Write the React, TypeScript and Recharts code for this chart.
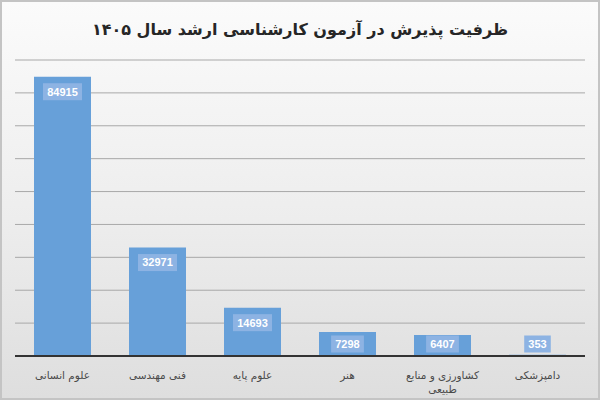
import React from "react";
import {
  BarChart,
  Bar,
  XAxis,
  YAxis,
  CartesianGrid,
  LabelList,
} from "recharts";

const categories = [
  "علوم انسانی",
  "فنی مهندسی",
  "علوم پایه",
  "هنر",
  "کشاورزی و منابع طبیعی",
  "دامپزشکی",
];
const capacity = [84915, 32971, 14693, 7298, 6407, 353];
const yTicks = [0, 10000, 20000, 30000, 40000, 50000, 60000, 70000, 80000, 90000];

const title = "ظرفیت پذیرش در آزمون کارشناسی ارشد سال ۱۴۰۵";

const data = categories.map((name, i) => ({ name, value: capacity[i] }));

// long labels: last word goes on a second line, like the original
const splitLabel = (label: string) => {
  const words = label.split(" ");
  if (words.length <= 3) return [label];
  return [words.slice(0, -1).join(" "), words[words.length - 1]];
};

const CategoryTick = (props: any) => {
  const { x, y, payload } = props;
  const lines = splitLabel(payload.value);
  return (
    <text
      x={x}
      y={y + 6}
      textAnchor="middle"
      fontSize={10.5}
      fill="#4a4a4a"
      fontFamily="DejaVu Sans"
    >
      {lines.map((line, i) => (
        <tspan key={i} x={x} dy={i === 0 ? "0.9em" : 14}>
          {line}
        </tspan>
      ))}
    </text>
  );
};

const ValueBox = (props: any) => {
  const { x, y, width, height, value } = props;
  const cx = x + width / 2;
  const bottom = y + height;
  const cy = Math.min(y + 15, bottom - 12);
  const label = String(value);
  const boxW = label.length * 6.2 + 8;
  return (
    <g>
      <rect
        x={cx - boxW / 2}
        y={cy - 8.5}
        width={boxW}
        height={17}
        fill="#8db3e3"
      />
      <text
        x={cx}
        y={cy}
        dy="0.35em"
        textAnchor="middle"
        fontSize={11}
        fontWeight="bold"
        fontFamily="Liberation Sans"
        fill="#ffffff"
      >
        {label}
      </text>
    </g>
  );
};

export default function App() {
  return (
    <div
      style={{
        position: "absolute",
        left: 0,
        top: 0,
        width: 600,
        height: 400,
        boxSizing: "border-box",
        border: "2px solid #c4c4c4",
        background: "linear-gradient(to bottom, #fbfbfb 0%, #ededed 55%, #dedede 100%)",
        overflow: "hidden",
      }}
    >
      <div
        style={{
          position: "absolute",
          left: 0,
          top: 18,
          width: 596,
          textAlign: "center",
          direction: "rtl",
          fontFamily: "DejaVu Sans",
          fontWeight: "bold",
          fontSize: 16,
          color: "#262626",
        }}
      >
        {title}
      </div>
      <div style={{ position: "absolute", left: -2, top: -2 }}>
        <BarChart
          width={600}
          height={400}
          data={data}
          margin={{ top: 60, right: 15, bottom: 0, left: 15 }}
          barCategoryGap="20%"
        >
          <CartesianGrid vertical={false} stroke="#a8a8a8" />
          <YAxis hide domain={[0, 90000]} ticks={yTicks} />
          <XAxis
            dataKey="name"
            height={44}
            axisLine={{ stroke: "#333333", strokeWidth: 2 }}
            tickLine={false}
            interval={0}
            tick={<CategoryTick />}
          />
          <Bar dataKey="value" fill="#67a0d9" isAnimationActive={false}>
            <LabelList dataKey="value" content={<ValueBox />} />
          </Bar>
        </BarChart>
      </div>
    </div>
  );
}
